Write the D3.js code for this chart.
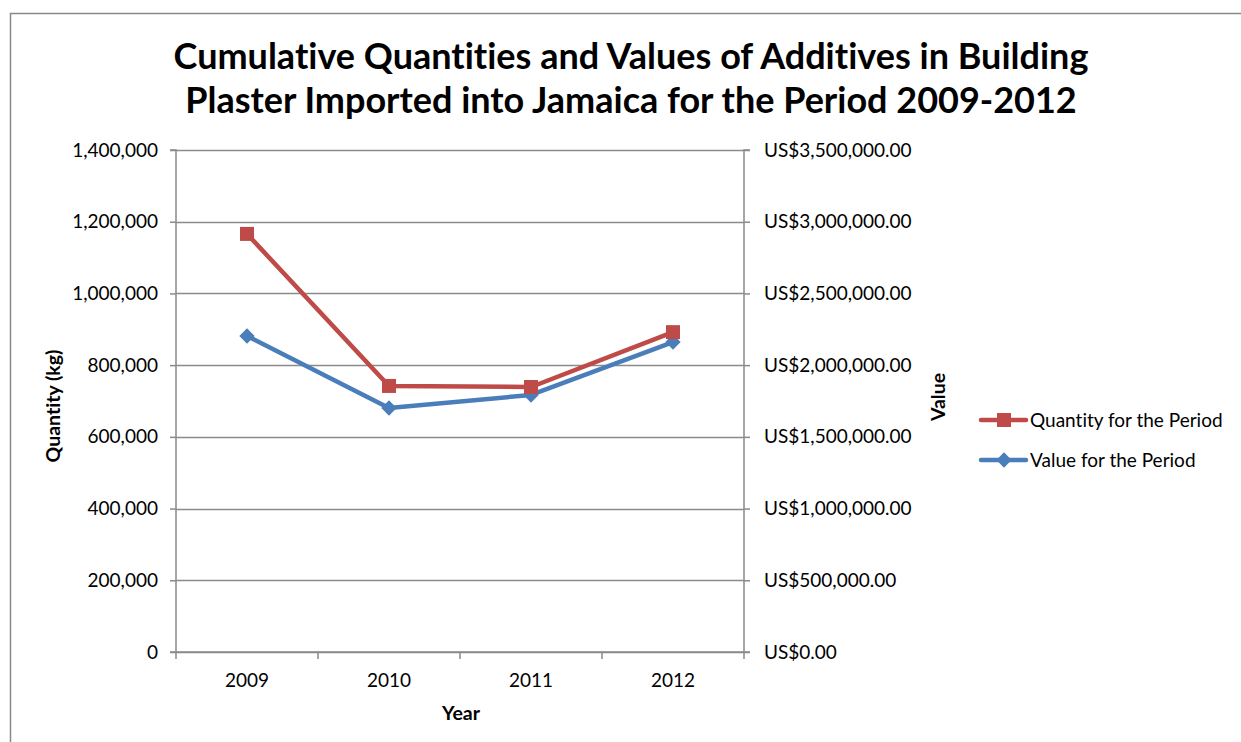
<!DOCTYPE html>
<html>
<head>
<meta charset="utf-8">
<script src="https://cdn.jsdelivr.net/npm/d3@7"></script>
<style>
  body { margin: 0; background: #fff; }
  text { font-family: Lato, "Open Sans", sans-serif; fill: #000; font-variant-ligatures: none; }
</style>
</head>
<body>
<div id="chart"></div>
<script>
// data
var years = ["2009", "2010", "2011", "2012"];
var quantity = [1166000, 742000, 739000, 892000];
var value = [2203000, 1701000, 1792000, 2161000];
var leftTicks = [0, 200000, 400000, 600000, 800000, 1000000, 1200000, 1400000];
var rightTicks = [0, 500000, 1000000, 1500000, 2000000, 2500000, 3000000, 3500000];
var seriesNames = ["Quantity for the Period", "Value for the Period"];

var W = 1241, H = 742;
var margin = {top: 150, left: 176, right: W - 744, bottom: H - 652};
var width = W - margin.left - margin.right,
    height = H - margin.top - margin.bottom;

var svg = d3.select("#chart")
  .append("svg")
    .attr("width", W)
    .attr("height", H);

// outer chart border
svg.append("rect")
  .attr("x", 10.5).attr("y", 13.5)
  .attr("width", W).attr("height", H)
  .attr("fill", "none")
  .attr("stroke", "#888")
  .attr("stroke-width", 1.5);

// title
var title = svg.append("text")
  .attr("text-anchor", "middle")
  .style("font-weight", "bold")
  .style("font-size", "36px");
title.append("tspan").attr("x", 631).attr("y", 69).text("Cumulative Quantities and Values of Additives in Building");
title.append("tspan").attr("x", 631).attr("y", 113).text("Plaster Imported into Jamaica for the Period 2009-2012");

var g = svg.append("g")
  .attr("transform", "translate(" + margin.left + "," + margin.top + ")");

// scales
var x = d3.scaleBand().domain(years).range([0, width]);
var yL = d3.scaleLinear().domain([0, 1400000]).range([height, 0]);
var yR = d3.scaleLinear().domain([0, 3500000]).range([height, 0]);

// gridlines
g.append("g")
  .selectAll("line")
  .data(leftTicks)
  .enter()
  .append("line")
    .attr("x1", 0).attr("x2", width)
    .attr("y1", function(d) { return Math.round(yL(d)) + 0.5; })
    .attr("y2", function(d) { return Math.round(yL(d)) + 0.5; })
    .attr("stroke", "#8a8a8a")
    .attr("stroke-width", 1.5);

var fmt = d3.format(",");
var usd = function(d) { return "US$" + d3.format(",.2f")(d); };

// left axis
var axL = g.append("g")
  .call(d3.axisLeft(yL).tickValues(leftTicks).tickFormat(fmt).tickSize(6).tickPadding(12));
// right axis
var axR = g.append("g")
  .attr("transform", "translate(" + width + ",0)")
  .call(d3.axisRight(yR).tickValues(rightTicks).tickFormat(usd).tickSize(6).tickPadding(14));
// bottom axis
var axB = g.append("g")
  .attr("transform", "translate(0," + height + ")")
  .call(d3.axisBottom(x).tickSize(0).tickPadding(22));
// category boundary ticks
axB.selectAll(".bound")
  .data(d3.range(years.length + 1))
  .enter()
  .append("line")
    .attr("x1", function(i) { return i * x.step(); })
    .attr("x2", function(i) { return i * x.step(); })
    .attr("y1", 0).attr("y2", 7)
    .attr("stroke", "#8a8a8a")
    .attr("stroke-width", 1.5);

[axL, axR, axB].forEach(function(a) {
  a.select(".domain").attr("stroke", "#8a8a8a").attr("stroke-width", 1.5);
  a.selectAll(".tick line").attr("stroke", "#8a8a8a").attr("stroke-width", 1.5);
  a.selectAll(".tick text").style("font-size", "19px").style("font-family", "Lato, 'Open Sans', sans-serif").attr("fill", "#000");
});
axL.select(".domain").attr("d", "M-6," + height + "H0V0H-6");
axR.select(".domain").attr("d", "M6,0H0V" + height + "H6");
axB.select(".domain").attr("d", "M0,0H" + width);

// axis titles
svg.append("text")
  .attr("transform", "translate(60,406) rotate(-90)")
  .attr("text-anchor", "middle")
  .style("font-weight", "bold")
  .style("font-size", "19.5px")
  .text("Quantity (kg)");
svg.append("text")
  .attr("transform", "translate(945,397) rotate(-90)")
  .attr("text-anchor", "middle")
  .style("font-weight", "bold")
  .style("font-size", "19.5px")
  .text("Value");
svg.append("text")
  .attr("x", 461).attr("y", 720)
  .attr("text-anchor", "middle")
  .style("font-weight", "bold")
  .style("font-size", "19.5px")
  .text("Year");

var red = "#be4b48", blue = "#4a7ebb";
var cx = function(d, i) { return x(years[i]) + x.bandwidth() / 2; };

// value line (blue, diamonds)
var lineR = d3.line().x(cx).y(function(d) { return yR(d); });
g.append("path")
  .datum(value)
  .attr("d", lineR)
  .attr("fill", "none")
  .attr("stroke", blue)
  .attr("stroke-width", 4.5)
  .attr("stroke-linejoin", "round");
g.selectAll(".dia")
  .data(value)
  .enter()
  .append("path")
    .attr("d", d3.symbol().type(d3.symbolDiamond2).size(150))
    .attr("transform", function(d, i) { return "translate(" + cx(d, i) + "," + yR(d) + ")"; })
    .attr("fill", blue);

// quantity line (red, squares)
var lineL = d3.line().x(cx).y(function(d) { return yL(d); });
g.append("path")
  .datum(quantity)
  .attr("d", lineL)
  .attr("fill", "none")
  .attr("stroke", red)
  .attr("stroke-width", 4.5)
  .attr("stroke-linejoin", "round");
g.selectAll(".sq")
  .data(quantity)
  .enter()
  .append("rect")
    .attr("x", function(d, i) { return cx(d, i) - 7; })
    .attr("y", function(d) { return yL(d) - 7; })
    .attr("width", 14).attr("height", 14)
    .attr("fill", red);

// legend
var legend = svg.append("g");
var colors = [red, blue];
seriesNames.forEach(function(name, i) {
  var ly = 420 + i * 40;
  legend.append("line")
    .attr("x1", 981).attr("x2", 1026)
    .attr("y1", ly).attr("y2", ly)
    .attr("stroke", colors[i])
    .attr("stroke-width", 4.5)
    .attr("stroke-linecap", "round");
  if (i === 0) {
    legend.append("rect")
      .attr("x", 997).attr("y", ly - 7)
      .attr("width", 14).attr("height", 14)
      .attr("fill", colors[i]);
  } else {
    legend.append("path")
      .attr("d", d3.symbol().type(d3.symbolDiamond2).size(150))
      .attr("transform", "translate(1004," + ly + ")")
      .attr("fill", colors[i]);
  }
  legend.append("text")
    .attr("x", 1030).attr("y", ly)
    .attr("dy", "0.35em")
    .style("font-size", "19px")
    .text(name);
});
</script>
</body>
</html>
